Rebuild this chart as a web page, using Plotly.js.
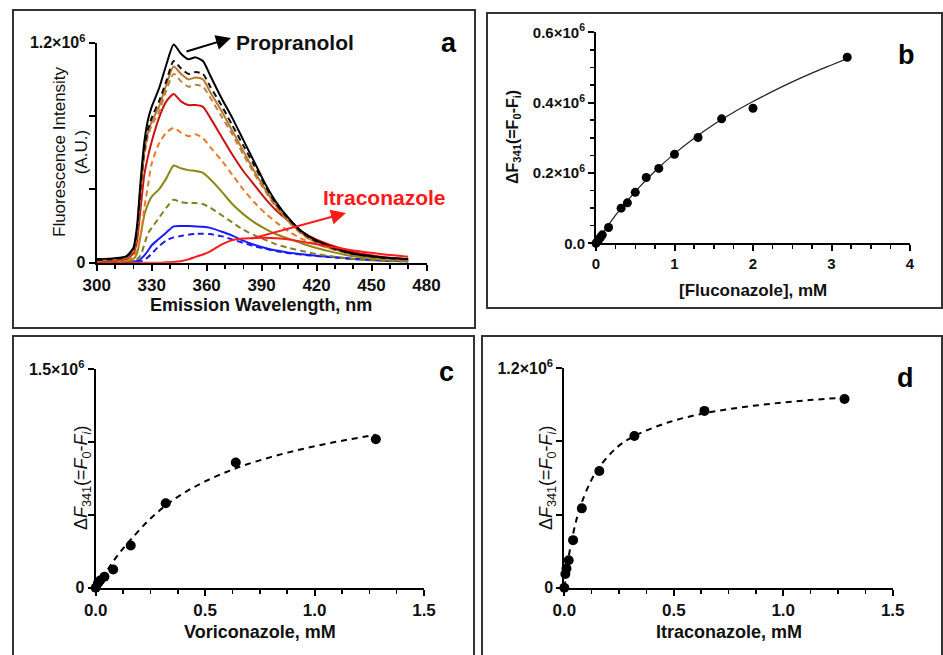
<!DOCTYPE html>
<html><head><meta charset="utf-8">
<script src="https://cdn.plot.ly/plotly-3.0.1.min.js"></script>
<style>html,body{margin:0;padding:0;background:#fff}#chart{width:943px;height:655px}</style>
</head><body><div id="chart"></div>
<script>
// ---------- Panel a: emission spectra (intensity in units of 10^6) ----------
const wavelength = [300,310,316,320,322,324,326,328,330,334,338,342,346,350,354,358,362,368,374,380,386,392,398,405,412,420,430,440,455,470];
const specBlack      = [0.02,0.025,0.035,0.08,0.2,0.45,0.66,0.78,0.85,0.95,1.08,1.19,1.14,1.11,1.12,1.10,1.02,0.90,0.79,0.67,0.55,0.43,0.33,0.24,0.17,0.12,0.08,0.05,0.03,0.02];
const specBlackDash  = [0.015,0.02,0.03,0.07,0.18,0.42,0.62,0.73,0.79,0.88,0.99,1.10,1.06,1.03,1.04,1.03,0.96,0.86,0.75,0.64,0.53,0.42,0.32,0.235,0.165,0.115,0.075,0.048,0.028,0.018];
const specBrown      = [0.012,0.018,0.028,0.065,0.17,0.40,0.60,0.71,0.77,0.85,0.97,1.07,1.03,1.00,1.01,1.00,0.93,0.83,0.72,0.61,0.50,0.40,0.31,0.225,0.16,0.11,0.072,0.045,0.026,0.016];
const specBrownDash  = [0.01,0.015,0.025,0.06,0.16,0.38,0.58,0.69,0.75,0.82,0.94,1.03,0.99,0.96,0.97,0.96,0.90,0.80,0.70,0.59,0.485,0.39,0.30,0.22,0.155,0.105,0.07,0.043,0.024,0.014];
const specRed        = [0.008,0.012,0.02,0.05,0.12,0.30,0.48,0.58,0.66,0.79,0.88,0.92,0.88,0.86,0.86,0.85,0.79,0.69,0.59,0.50,0.425,0.35,0.285,0.225,0.17,0.125,0.088,0.058,0.033,0.02];
const specOrangeDash = [0.005,0.008,0.012,0.03,0.07,0.15,0.30,0.42,0.54,0.65,0.71,0.735,0.71,0.69,0.70,0.68,0.63,0.56,0.48,0.40,0.33,0.27,0.22,0.17,0.13,0.10,0.07,0.045,0.025,0.014];
const specOlive      = [0.003,0.005,0.008,0.02,0.05,0.15,0.26,0.32,0.36,0.40,0.46,0.53,0.515,0.505,0.50,0.49,0.455,0.39,0.32,0.265,0.22,0.185,0.155,0.13,0.105,0.08,0.055,0.035,0.018,0.01];
const specOliveDash  = [0.002,0.003,0.005,0.01,0.02,0.04,0.10,0.16,0.19,0.245,0.30,0.343,0.33,0.325,0.325,0.32,0.30,0.26,0.22,0.18,0.15,0.125,0.10,0.08,0.064,0.047,0.032,0.02,0.01,0.006];
const specBlue       = [0.002,0.003,0.004,0.006,0.01,0.02,0.04,0.065,0.095,0.13,0.165,0.198,0.20,0.20,0.198,0.196,0.19,0.17,0.148,0.12,0.098,0.08,0.066,0.055,0.046,0.038,0.03,0.022,0.014,0.008];
const specBlueDash   = [0.001,0.002,0.003,0.004,0.005,0.008,0.014,0.03,0.05,0.09,0.122,0.138,0.146,0.153,0.157,0.158,0.156,0.145,0.127,0.108,0.09,0.076,0.063,0.052,0.044,0.036,0.028,0.02,0.012,0.007];
const specItra       = [0,0,0,0,0,0,0,0,0,0,0.002,0.004,0.008,0.018,0.032,0.045,0.062,0.098,0.123,0.132,0.135,0.136,0.134,0.127,0.115,0.1,0.083,0.066,0.047,0.033];

// ---------- Panel b: Fluconazole (ΔF in units of 10^6) ----------
const flucConc = [0,0.02,0.04,0.06,0.08,0.16,0.32,0.4,0.5,0.64,0.8,1.0,1.3,1.6,2.0,3.2];
const flucDF   = [0,0.006,0.012,0.018,0.024,0.045,0.100,0.115,0.145,0.187,0.213,0.253,0.301,0.354,0.384,0.529];
const flucFitX = [0,0.25,0.5,0.75,1.0,1.25,1.5,1.75,2.0,2.25,2.5,2.75,3.0,3.2];
const flucFitY = [0,0.08,0.147,0.205,0.255,0.299,0.338,0.372,0.403,0.432,0.459,0.484,0.507,0.525];

// ---------- Panel c: Voriconazole ----------
const voriConc = [0,0.01,0.02,0.04,0.08,0.16,0.32,0.64,1.28];
const voriDF   = [0,0.03,0.05,0.075,0.125,0.29,0.58,0.86,1.02];
const voriFitX = [0,0.04,0.08,0.12,0.16,0.24,0.32,0.4,0.5,0.64,0.8,0.96,1.12,1.28];
const voriFitY = [0,0.09,0.18,0.26,0.33,0.46,0.565,0.648,0.73,0.82,0.897,0.958,1.008,1.05];

// ---------- Panel d: Itraconazole ----------
const itraConc = [0,0.005,0.01,0.02,0.04,0.08,0.16,0.32,0.64,1.28];
const itraDF   = [0,0.075,0.105,0.15,0.26,0.434,0.638,0.83,0.967,1.032];
const itraFitX = [0,0.01,0.02,0.04,0.06,0.08,0.12,0.16,0.24,0.32,0.48,0.64,0.8,0.96,1.12,1.28];
const itraFitY = [0,0.092,0.17,0.294,0.392,0.467,0.58,0.66,0.767,0.83,0.906,0.954,0.985,1.008,1.026,1.04];

// ---------- tick labels ----------
const aYTicks = [0,0.4,0.8,1.2],  aYText = ['0','','','1.2×10<sup>6</sup>'];
const bYTicks = [0,0.2,0.4,0.6],  bYText = ['0.0','0.2×10<sup>6</sup>','0.4×10<sup>6</sup>','0.6×10<sup>6</sup>'];
const cYTicks = [0,0.5,1.0,1.5],  cYText = ['0','','','1.5×10<sup>6</sup>'];
const dYTicks = [0,0.4,0.8,1.2],  dYText = ['0','','','1.2×10<sup>6</sup>'];
const bXTicks = [0,1,2,3,4],      bXText = ['0','1','2','3','4'];
const cdXTicks = [0,0.5,1.0,1.5], cdXText = ['0.0','0.5','1.0','1.5'];

// ---------- geometry helpers ----------
const FW = 943, FH = 655;
const px = x => x / FW, py = y => 1 - y / FH;
const F = 'Liberation Sans, Arial, sans-serif';

function specTrace(y, color, dash) {
  return {x: wavelength, y: y, type: 'scatter', mode: 'lines', xaxis: 'x', yaxis: 'y',
    line: {color: color, width: 2, dash: dash ? '6px,4px' : 'solid', shape: 'spline', smoothing: 0.6},
    hoverinfo: 'skip', showlegend: false, cliponaxis: false};
}

const traces = [
  specTrace(specBlueDash, '#1a1aff', true),
  specTrace(specBlue, '#1a1aff', false),
  specTrace(specOliveDash, '#808024', true),
  specTrace(specOlive, '#8a8a12', false),
  specTrace(specOrangeDash, '#ec7a24', true),
  specTrace(specRed, '#cc1111', false),
  specTrace(specBrownDash, '#b8843e', true),
  specTrace(specBrown, '#bb7830', false),
  specTrace(specBlackDash, '#111111', true),
  specTrace(specBlack, '#000000', false),
  specTrace(specItra, '#ff1a1a', false),
  // b
  {x: flucFitX, y: flucFitY, type: 'scatter', mode: 'lines', xaxis: 'x2', yaxis: 'y2',
   line: {color: '#222', width: 1.2, shape: 'spline'}, showlegend: false},
  {x: flucConc, y: flucDF, type: 'scatter', mode: 'markers', xaxis: 'x2', yaxis: 'y2',
   marker: {color: '#000', size: 9}, showlegend: false, cliponaxis: false},
  // c
  {x: voriFitX, y: voriFitY, type: 'scatter', mode: 'lines', xaxis: 'x3', yaxis: 'y3',
   line: {color: '#000', width: 2, dash: '6px,5px', shape: 'spline'}, showlegend: false},
  {x: voriConc, y: voriDF, type: 'scatter', mode: 'markers', xaxis: 'x3', yaxis: 'y3',
   marker: {color: '#000', size: 10}, showlegend: false, cliponaxis: false},
  // d
  {x: itraFitX, y: itraFitY, type: 'scatter', mode: 'lines', xaxis: 'x4', yaxis: 'y4',
   line: {color: '#000', width: 2, dash: '6px,5px', shape: 'spline'}, showlegend: false},
  {x: itraConc, y: itraDF, type: 'scatter', mode: 'markers', xaxis: 'x4', yaxis: 'y4',
   marker: {color: '#000', size: 10}, showlegend: false, cliponaxis: false}
];

const tf = s => ({family: F, size: s, color: '#111', weight: 'bold'});
function ax(extra) {
  return Object.assign({showline: true, linecolor: '#000', linewidth: 2, ticks: 'outside', ticklen: 6,
    tickwidth: 2, tickcolor: '#000', showgrid: false, zeroline: false, fixedrange: true,
    tickfont: tf(16)}, extra);
}
function minor(d) { return {tickmode: 'linear', tick0: 0, dtick: d, ticks: 'outside', ticklen: 4, tickwidth: 1.5, tickcolor: '#000', showgrid: false}; }

const layout = {
  width: FW, height: FH, margin: {l: 0, r: 0, t: 0, b: 0},
  paper_bgcolor: '#fff', plot_bgcolor: 'rgba(0,0,0,0)', showlegend: false,
  xaxis: ax({domain: [px(96.7), px(426.5)], range: [300, 480], anchor: 'y', tickmode: 'linear', tick0: 300, dtick: 30, minor: minor(10), tickfont: tf(17)}),
  yaxis: ax({domain: [py(262.7), py(42.7)], range: [0, 1.2], anchor: 'x', tickmode: 'array', tickvals: aYTicks, ticktext: aYText, tickfont: tf(16)}),
  xaxis2: ax({domain: [px(596), px(910)], range: [0, 4], anchor: 'y2', tickmode: 'array', tickvals: bXTicks, ticktext: bXText, minor: minor(0.25), tickfont: tf(15)}),
  yaxis2: ax({domain: [py(243.3), py(32.3)], range: [0, 0.6], anchor: 'x2', tickmode: 'array', tickvals: bYTicks, ticktext: bYText, minor: minor(0.05), tickfont: tf(15)}),
  xaxis3: ax({domain: [px(95.7), px(424)], range: [0, 1.5], anchor: 'y3', tickmode: 'array', tickvals: cdXTicks, ticktext: cdXText, minor: minor(0.125), tickfont: tf(17)}),
  yaxis3: ax({domain: [py(587.7), py(369.3)], range: [0, 1.5], anchor: 'x3', tickmode: 'array', tickvals: cYTicks, ticktext: cYText, tickfont: tf(16)}),
  xaxis4: ax({domain: [px(564.3), px(892.7)], range: [0, 1.5], anchor: 'y4', tickmode: 'array', tickvals: cdXTicks, ticktext: cdXText, minor: minor(0.125), tickfont: tf(17)}),
  yaxis4: ax({domain: [py(587.7), py(368.3)], range: [0, 1.2], anchor: 'x4', tickmode: 'array', tickvals: dYTicks, ticktext: dYText, tickfont: tf(16)}),
  shapes: [
    {type: 'rect', xref: 'paper', yref: 'paper', x0: px(13), x1: px(475), y0: py(328), y1: py(10), line: {color: '#333', width: 2}},
    {type: 'rect', xref: 'paper', yref: 'paper', x0: px(487), x1: px(942), y0: py(308), y1: py(13), line: {color: '#333', width: 2}},
    {type: 'rect', xref: 'paper', yref: 'paper', x0: px(13), x1: px(474), y0: py(656), y1: py(336), line: {color: '#333', width: 2}},
    {type: 'rect', xref: 'paper', yref: 'paper', x0: px(482), x1: px(942), y0: py(656), y1: py(336), line: {color: '#333', width: 2}}
  ],
  annotations: []
};

function note(text, x, y, size, opts) {
  layout.annotations.push(Object.assign({text: text, xref: 'paper', yref: 'paper', x: px(x), y: py(y),
    xanchor: 'center', yanchor: 'middle', showarrow: false,
    font: {family: F, size: size, color: '#111'}}, opts || {}));
}
const bold = (s, c) => ({font: {family: F, size: s, color: c || '#111', weight: 'bold'}});

// panel letters
note('a', 449, 43, 27, bold(27, '#000'));
note('b', 906, 55, 27, bold(27, '#000'));
note('c', 446, 372, 27, bold(27, '#000'));
note('d', 905, 378, 27, bold(27, '#000'));
// panel a labels
note('Propranolol', 295, 43, 21, bold(21, '#111'));
note('Itraconazole', 384, 197, 21, bold(21, '#ff1a1a'));
note('Fluorescence Intensity<br>(A.U.)', 71, 152, 17, {textangle: -90});
note('Emission Wavelength, nm', 261, 305, 18, bold(18));
// arrows
layout.annotations.push({text: '', xref: 'paper', yref: 'paper', x: px(231), y: py(38), ax: -46, ay: 14,
  showarrow: true, arrowhead: 2, arrowsize: 1.5, arrowwidth: 2, arrowcolor: '#000'});
layout.annotations.push({text: '', xref: 'paper', yref: 'paper', x: px(346), y: py(213), ax: -96, ay: 26,
  showarrow: true, arrowhead: 2, arrowsize: 1.5, arrowwidth: 2, arrowcolor: '#ff1a1a'});
// panel b titles
note('ΔF<sub>341</sub>(=F<sub>0</sub>-F<sub>i</sub>)', 513, 137, 16, Object.assign({textangle: -90}, bold(16)));
note('[Fluconazole], mM', 753, 291, 17, bold(17));
// panel c/d titles
const dfTitle = 'Δ<i>F</i><sub>341</sub>(=<i>F</i><sub>0</sub>-<i>F<sub>i</sub></i>)';
note(dfTitle, 82, 478, 18, {textangle: -90});
note('Voriconazole, mM', 260, 632, 18, bold(18));
note(dfTitle, 547, 478, 18, {textangle: -90});
note('Itraconazole, mM', 729, 632, 18, bold(18));

Plotly.newPlot('chart', traces, layout, {staticPlot: true, displayModeBar: false});
</script></body></html>
